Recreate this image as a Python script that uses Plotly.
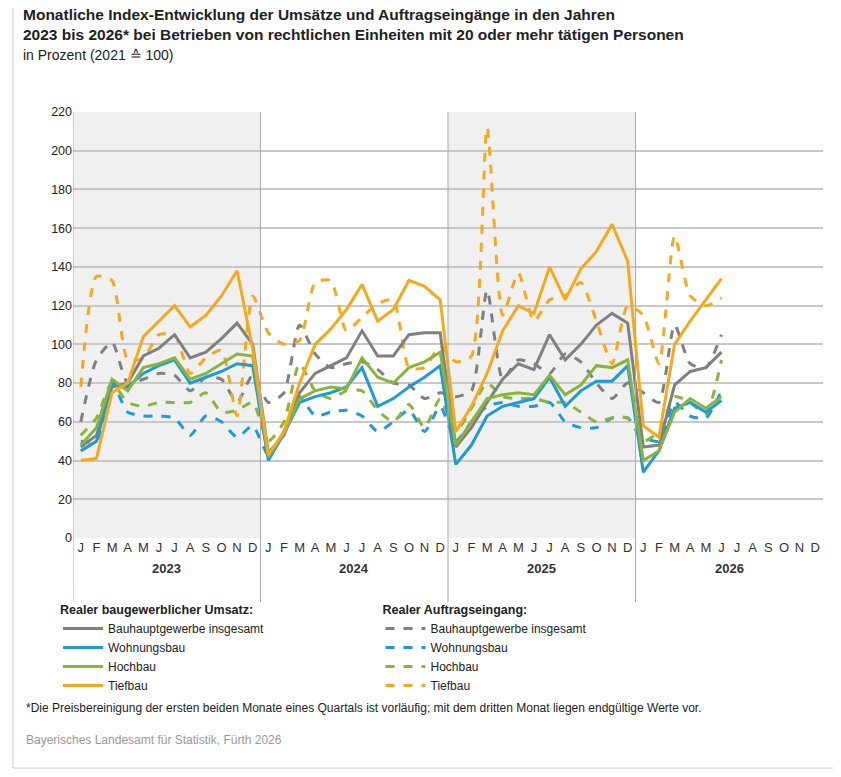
import plotly.graph_objects as go

# Monate Jan 2023 .. Jun 2026 (42 Werte), Achse reicht bis Dez 2026
month_letters = ["J", "F", "M", "A", "M", "J", "J", "A", "S", "O", "N", "D"]
years = ["2023", "2024", "2025", "2026"]

# Realer baugewerblicher Umsatz
umsatz_gesamt = [47, 53, 78, 80, 94, 98, 105, 93, 96, 103, 111, 100,
                 44, 53, 75, 85, 89, 93, 107, 94, 94, 105, 106, 106,
                 47, 57, 70, 82, 90, 87, 105, 92, 100, 110, 116, 111,
                 47, 48, 79, 86, 88, 96]
umsatz_wohnungsbau = [45, 50, 80, 78, 85, 89, 92, 80, 83, 86, 90, 89,
                      40, 54, 70, 73, 75, 78, 88, 68, 72, 78, 83, 89,
                      38, 48, 63, 68, 70, 72, 83, 68, 76, 81, 81, 89,
                      34, 45, 67, 70, 65, 71]
umsatz_hochbau = [48, 57, 82, 76, 88, 90, 93, 82, 85, 90, 95, 94,
                  42, 54, 72, 76, 78, 77, 93, 83, 80, 88, 91, 96,
                  48, 60, 72, 74, 75, 74, 84, 74, 79, 89, 88, 92,
                  40, 45, 65, 72, 67, 73]
umsatz_tiefbau = [40, 41, 75, 80, 104, 112, 120, 109, 115, 125, 138, 98,
                  43, 55, 80, 100, 108, 118, 131, 112, 118, 133, 130, 123,
                  55, 68, 85, 107, 120, 116, 140, 123, 139, 148, 162, 143,
                  58, 52, 100, 112, 123, 134]

# Realer Auftragseingang
auftrag_gesamt = [60, 92, 101, 80, 82, 85, 84, 76, 83, 82, 70, 84,
                  70, 75, 110, 95, 88, 90, 91, 87, 80, 79, 72, 75,
                  73, 76, 128, 82, 92, 90, 85, 95, 91, 80, 72, 80,
                  75, 70, 110, 90, 88, 105]
auftrag_wohnungsbau = [50, 50, 80, 65, 63, 63, 62, 53, 63, 60, 52, 58,
                       43, 55, 73, 63, 65, 66, 63, 55, 60, 66, 55, 68,
                       50, 60, 68, 70, 68, 68, 70, 60, 57, 57, 62, 62,
                       52, 50, 70, 63, 62, 76]
auftrag_hochbau = [53, 62, 80, 70, 68, 70, 70, 70, 75, 65, 66, 70,
                   50, 60, 90, 76, 72, 76, 76, 66, 60, 69, 57, 72,
                   55, 67, 80, 73, 72, 72, 70, 70, 65, 60, 62, 62,
                   50, 55, 73, 70, 64, 92]
auftrag_tiefbau = [78, 135, 133, 92, 93, 105, 105, 85, 93, 97, 63, 125,
                   106, 100, 102, 132, 133, 107, 114, 121, 123, 88, 88, 99,
                   91, 94, 212, 115, 137, 112, 123, 125, 132, 112, 90, 120,
                   115, 90, 156, 125, 120, 124]

GRAY, BLUE, GREEN, ORANGE = "#808080", "#1e9bd7", "#8ab43a", "#f6a91b"
FONT = "Liberation Sans"

x = list(range(len(umsatz_gesamt)))
fig = go.Figure()

solid = [("Bauhauptgewerbe insgesamt", umsatz_gesamt, GRAY),
         ("Wohnungsbau", umsatz_wohnungsbau, BLUE),
         ("Hochbau", umsatz_hochbau, GREEN),
         ("Tiefbau", umsatz_tiefbau, ORANGE)]
dashed = [("Bauhauptgewerbe insgesamt", auftrag_gesamt, GRAY),
          ("Wohnungsbau", auftrag_wohnungsbau, BLUE),
          ("Hochbau", auftrag_hochbau, GREEN),
          ("Tiefbau", auftrag_tiefbau, ORANGE)]

# dashed first so solid lines sit on top
for name, vals, col in dashed:
    fig.add_trace(go.Scatter(x=x, y=vals, name=name, mode="lines", legend="legend2",
                             line=dict(color=col, width=3, dash="dash", shape="spline", smoothing=0.6)))
for name, vals, col in solid:
    fig.add_trace(go.Scatter(x=x, y=vals, name=name, mode="lines", legend="legend",
                             line=dict(color=col, width=3)))

# shaded years and separators
for i in (0, 2):
    fig.add_shape(type="rect", xref="x", yref="y", x0=i * 12 - 0.5, x1=i * 12 + 11.5,
                  y0=0, y1=220, fillcolor="#f0f0f0", line_width=0, layer="below")
for i in range(1, 4):
    fig.add_shape(type="line", xref="x", yref="paper", x0=i * 12 - 0.5, x1=i * 12 - 0.5,
                  y0=-0.15, y1=1, line=dict(color="#aaaaaa", width=1))
fig.add_shape(type="line", xref="x", yref="paper", x0=-0.5, x1=-0.5, y0=-0.15, y1=1,
              line=dict(color="#aaaaaa", width=1))
# frame around the whole picture
fig.add_shape(type="rect", xref="paper", yref="paper", x0=-0.08, x1=1.03, y0=-0.54, y1=1.26,
              line=dict(color="#cccccc", width=1))

for i, yr in enumerate(years):
    fig.add_annotation(x=i * 12 + 5.5, y=-0.095, xref="x", yref="paper", text="<b>" + yr + "</b>",
                       showarrow=False, font=dict(size=13, color="#333333"))

fig.add_annotation(x=-0.07, y=1.254, xref="paper", yref="paper", xanchor="left", yanchor="top",
                   align="left", showarrow=False, font=dict(size=15.5, color="#222222", family=FONT),
                   text="<b>Monatliche Index-Entwicklung der Umsätze und Auftragseingänge in den Jahren<br>"
                        "2023 bis 2026* bei Betrieben von rechtlichen Einheiten mit 20 oder mehr tätigen Personen</b><br>"
                        "<span style='font-size:14px'>in Prozent (2021 ≙ 100)</span>")
fig.add_annotation(x=-0.065, y=-0.42, xref="paper", yref="paper", xanchor="left", showarrow=False,
                   font=dict(size=12, color="#222222", family=FONT),
                   text="*Die Preisbereinigung der ersten beiden Monate eines Quartals ist vorläufig; "
                        "mit dem dritten Monat liegen endgültige Werte vor.")
fig.add_annotation(x=-0.065, y=-0.495, xref="paper", yref="paper", xanchor="left", showarrow=False,
                   font=dict(size=12, color="#999999", family=FONT),
                   text="Bayerisches Landesamt für Statistik, Fürth 2026")

fig.update_layout(
    width=841, height=777, template="none",
    margin=dict(l=65, r=26, t=104, b=247),
    paper_bgcolor="white", plot_bgcolor="white",
    font=dict(family=FONT, size=13, color="#222222"),
    xaxis=dict(range=[-0.5, 47.5], tickmode="array", tickvals=list(range(48)),
               ticktext=month_letters * 4, showgrid=False, zeroline=False,
               tickfont=dict(size=13, color="#333333"), ticks=""),
    yaxis=dict(range=[0, 220], dtick=20, showgrid=True, gridcolor="#c8c8c8", gridwidth=1.5,
               zeroline=False, tickfont=dict(size=12.5), ticks=""),
    legend=dict(x=-0.02, y=-0.14, xanchor="left", yanchor="top", tracegroupgap=0,
                title=dict(text="<b>Realer baugewerblicher Umsatz:</b>", font=dict(size=12.5)),
                font=dict(size=12), itemwidth=40, bgcolor="rgba(0,0,0,0)"),
    legend2=dict(x=0.41, y=-0.14, xanchor="left", yanchor="top", tracegroupgap=0,
                 title=dict(text="<b>Realer Auftragseingang:</b>", font=dict(size=12.5)),
                 font=dict(size=12), itemwidth=40, bgcolor="rgba(0,0,0,0)",
                 traceorder="normal"),
)

fig.write_html("out.html")
